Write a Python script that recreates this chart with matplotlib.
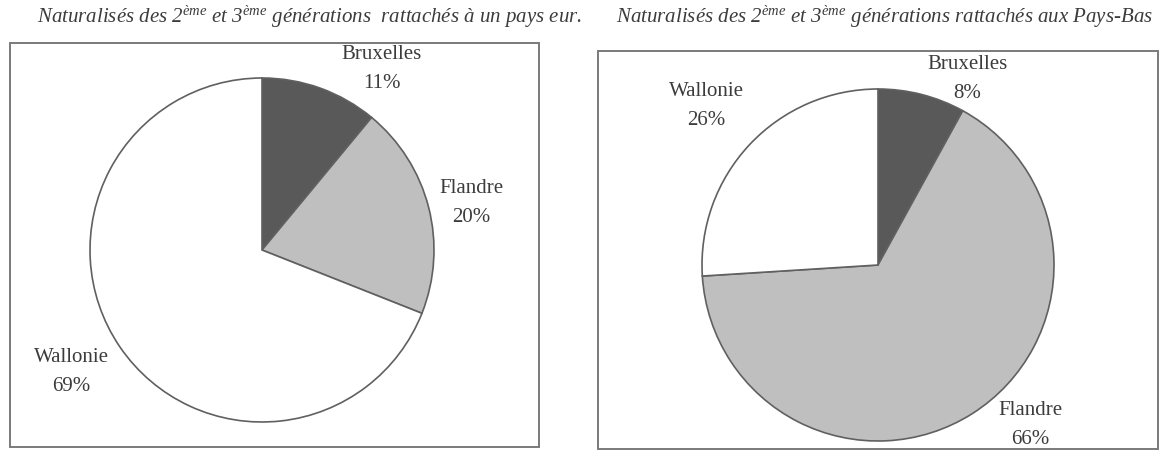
import matplotlib.pyplot as plt
from matplotlib.patches import Rectangle

plt.rcParams['font.family'] = 'Liberation Serif'
plt.rcParams['mathtext.fontset'] = 'custom'
plt.rcParams['mathtext.it'] = 'Liberation Serif:italic'
plt.rcParams['mathtext.rm'] = 'Liberation Serif:italic'

# Répartition régionale (%)
regions = ['Bruxelles', 'Flandre', 'Wallonie']
eur_values = [11, 20, 69]
nl_values = [8, 66, 26]
titles = [
    r'Naturalisés des 2$^{ème}$ et 3$^{ème}$ générations  rattachés à un pays eur.',
    r'Naturalisés des 2$^{ème}$ et 3$^{ème}$ générations rattachés aux Pays-Bas',
]

colors = ['#595959', '#bfbfbf', '#ffffff']
text_color = '#3c3c3c'

W, H = 1160, 450
fig = plt.figure(figsize=(W / 100, H / 100), dpi=100)
ax = fig.add_axes([0, 0, 1, 1])

# boîtes des deux graphiques (pixels : x0, y_haut, x1, y_bas)
boxes = [(10, 43, 539, 447), (598, 51, 1158, 449)]
for x0, yt, x1, yb in boxes:
    ax.add_patch(Rectangle((x0, H - yb), x1 - x0, yb - yt, fill=False,
                           edgecolor='#7a7a7a', linewidth=1.4))

# centres et rayons des camemberts, positions des étiquettes (pixels)
pies = [
    dict(values=eur_values, center=(262, 250), radius=172,
         label_pos=[(382, 69), (471, 203), (71, 372)], title_x=309),
    dict(values=nl_values, center=(878, 265), radius=176,
         label_pos=[(967, 79), (1030, 425), (706, 106)], title_x=884),
]

for p, title in zip(pies, titles):
    cx, cy = p['center']
    ax.pie(p['values'], colors=colors, startangle=90, counterclock=False,
           center=(cx, H - cy), radius=p['radius'], frame=True,
           wedgeprops=dict(edgecolor='#606060', linewidth=1.2))
    for name, val, (lx, ly) in zip(regions, p['values'], p['label_pos']):
        ax.text(lx, H - ly, f'{name}\n{val}%', ha='center', va='center',
                fontsize=15, color=text_color, linespacing=1.7)
    ax.text(p['title_x'], H - 17, title, ha='center', va='center',
            fontsize=15, style='italic', color=text_color)

ax.set_xlim(0, W)
ax.set_ylim(0, H)
ax.set_aspect('equal')
ax.axis('off')

fig.savefig('out.png', dpi=100)
